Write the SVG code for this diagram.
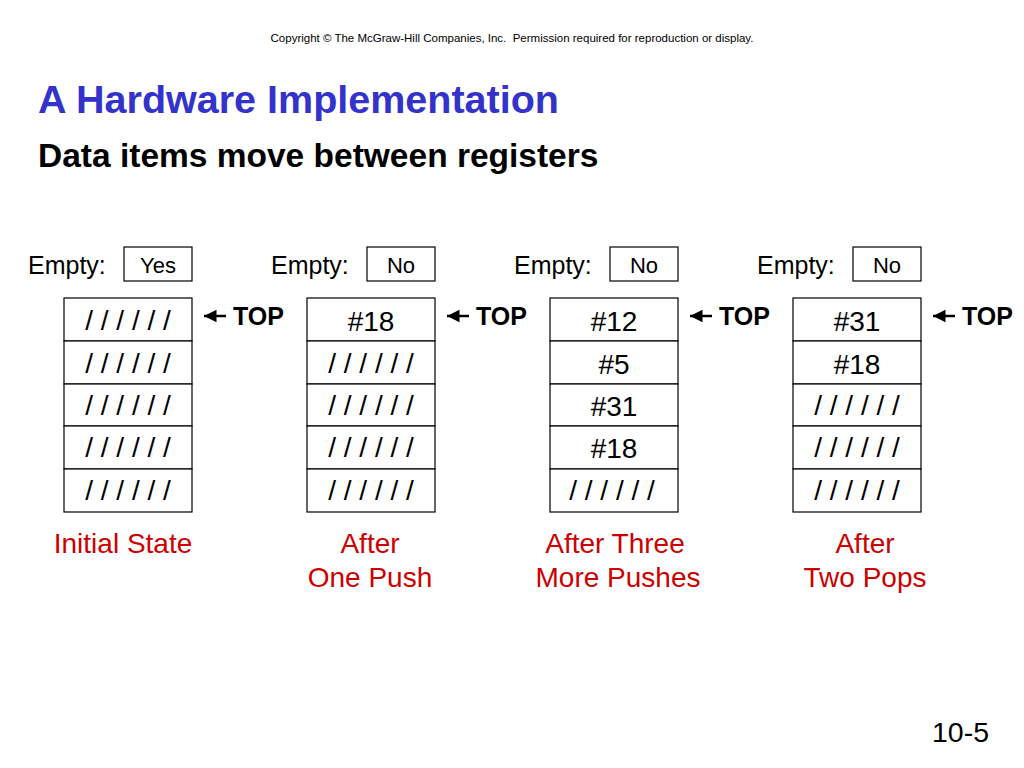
<svg xmlns="http://www.w3.org/2000/svg" width="1024" height="768" viewBox="0 0 1024 768">
<style>
text{font-family:"Liberation Sans",Arial,sans-serif}
.cell{fill:#fff;stroke:#000;stroke-width:1.2}
.ct{font-size:28px;text-anchor:middle}
.em{font-size:25px}
.eb{font-size:22px;text-anchor:middle}
.top{font-size:25px;font-weight:bold}
.lab{font-size:28px;fill:#CC0000;text-anchor:middle}
.arr{stroke:#000;stroke-width:2.5;fill:none}
</style>
<defs>
<marker id="ah" markerWidth="6" markerHeight="6" refX="5" refY="3" orient="auto" markerUnits="strokeWidth"><path d="M0,0.5 L5,3 L0,5.5 Z" fill="#000"/></marker>
</defs>
<rect width="1024" height="768" fill="#fff"/>
<text x="512" y="42" font-size="11.5" text-anchor="middle" xml:space="preserve">Copyright © The McGraw-Hill Companies, Inc.  Permission required for reproduction or display.</text>
<text x="38" y="113" font-size="39.5" font-weight="bold" fill="#3333CC">A Hardware Implementation</text>
<text x="38" y="167" font-size="33.5" font-weight="bold">Data items move between registers</text>

<g id="stack1">
<text x="28" y="274" class="em">Empty:</text>
<rect x="124" y="247" width="68" height="34" class="cell"/>
<text x="158" y="273" class="eb">Yes</text>
<rect x="64" y="298" width="128" height="43" class="cell"/>
<rect x="64" y="341" width="128" height="43" class="cell"/>
<rect x="64" y="384" width="128" height="42" class="cell"/>
<rect x="64" y="426" width="128" height="43" class="cell"/>
<rect x="64" y="469" width="128" height="43" class="cell"/>
<text x="128" y="330" class="ct">/ / / / / /</text>
<text x="128" y="373" class="ct">/ / / / / /</text>
<text x="128" y="415" class="ct">/ / / / / /</text>
<text x="128" y="457" class="ct">/ / / / / /</text>
<text x="128" y="500" class="ct">/ / / / / /</text>
<text x="233" y="325" class="top">TOP</text>
<text x="123" y="553" class="lab">Initial State</text>
</g>

<g id="stack2">
<text x="271" y="274" class="em">Empty:</text>
<rect x="367" y="247" width="68" height="34" class="cell"/>
<text x="401" y="273" class="eb">No</text>
<rect x="307" y="298" width="128" height="43" class="cell"/>
<rect x="307" y="341" width="128" height="43" class="cell"/>
<rect x="307" y="384" width="128" height="42" class="cell"/>
<rect x="307" y="426" width="128" height="43" class="cell"/>
<rect x="307" y="469" width="128" height="43" class="cell"/>
<text x="371" y="331" class="ct">#18</text>
<text x="371" y="373" class="ct">/ / / / / /</text>
<text x="371" y="415" class="ct">/ / / / / /</text>
<text x="371" y="457" class="ct">/ / / / / /</text>
<text x="371" y="500" class="ct">/ / / / / /</text>
<text x="476" y="325" class="top">TOP</text>
<text x="370" y="553" class="lab">After</text>
<text x="370" y="587" class="lab">One Push</text>
</g>

<g id="stack3">
<text x="514" y="274" class="em">Empty:</text>
<rect x="610" y="247" width="68" height="34" class="cell"/>
<text x="644" y="273" class="eb">No</text>
<rect x="550" y="298" width="128" height="43" class="cell"/>
<rect x="550" y="341" width="128" height="43" class="cell"/>
<rect x="550" y="384" width="128" height="42" class="cell"/>
<rect x="550" y="426" width="128" height="43" class="cell"/>
<rect x="550" y="469" width="128" height="43" class="cell"/>
<text x="614" y="331" class="ct">#12</text>
<text x="614" y="374" class="ct">#5</text>
<text x="614" y="416" class="ct">#31</text>
<text x="614" y="458" class="ct">#18</text>
<text x="612" y="500" class="ct">/ / / / / /</text>
<text x="719" y="325" class="top">TOP</text>
<text x="615" y="553" class="lab">After Three</text>
<text x="618" y="587" class="lab">More Pushes</text>
</g>

<g id="stack4">
<text x="757" y="274" class="em">Empty:</text>
<rect x="853" y="247" width="68" height="34" class="cell"/>
<text x="887" y="273" class="eb">No</text>
<rect x="793" y="298" width="128" height="43" class="cell"/>
<rect x="793" y="341" width="128" height="43" class="cell"/>
<rect x="793" y="384" width="128" height="42" class="cell"/>
<rect x="793" y="426" width="128" height="43" class="cell"/>
<rect x="793" y="469" width="128" height="43" class="cell"/>
<text x="857" y="331" class="ct">#31</text>
<text x="857" y="374" class="ct">#18</text>
<text x="857" y="415" class="ct">/ / / / / /</text>
<text x="857" y="457" class="ct">/ / / / / /</text>
<text x="857" y="500" class="ct">/ / / / / /</text>
<text x="962" y="325" class="top">TOP</text>
<text x="865" y="553" class="lab">After</text>
<text x="865" y="587" class="lab">Two Pops</text>
</g>

<g id="connectors">
<line x1="226" y1="316" x2="204" y2="316" class="arr" marker-end="url(#ah)"/>
<line x1="469" y1="316" x2="447" y2="316" class="arr" marker-end="url(#ah)"/>
<line x1="712" y1="316" x2="690" y2="316" class="arr" marker-end="url(#ah)"/>
<line x1="955" y1="316" x2="933" y2="316" class="arr" marker-end="url(#ah)"/>
</g>

<text x="932" y="742" font-size="28.5">10-5</text>
</svg>
